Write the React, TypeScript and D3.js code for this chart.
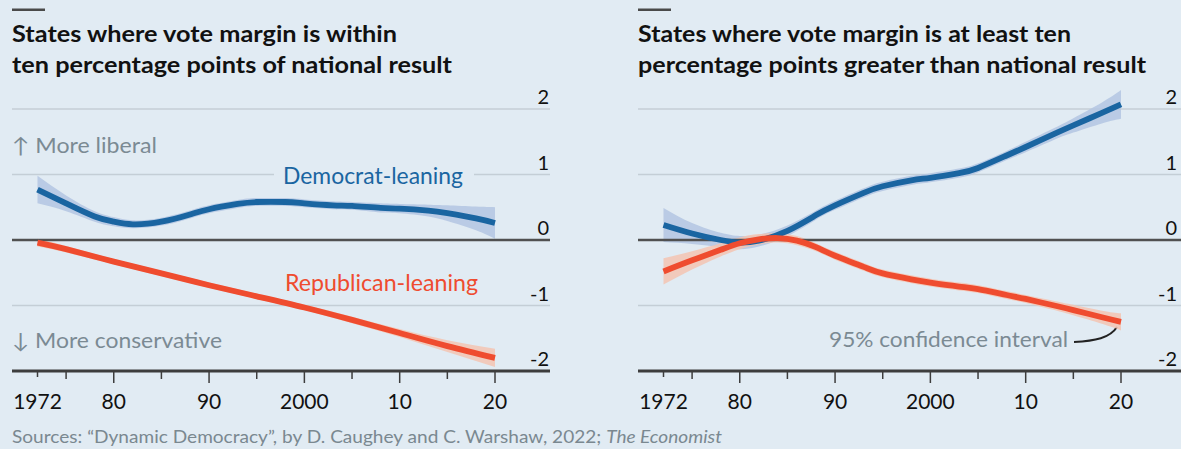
import React from "react";
import * as d3 from "d3";

// ---------- data ----------
const yearsDemL = [1972, 1975, 1978, 1980, 1982, 1985, 1988, 1990, 1993, 1995, 1998, 2000, 2003, 2005, 2008, 2010, 2013, 2015, 2018, 2020];
const demL = [0.77, 0.56, 0.36, 0.28, 0.24, 0.28, 0.39, 0.47, 0.55, 0.58, 0.58, 0.56, 0.53, 0.52, 0.49, 0.48, 0.45, 0.41, 0.33, 0.26];
const demLci = [0.21, 0.12, 0.08, 0.07, 0.06, 0.06, 0.06, 0.06, 0.06, 0.06, 0.06, 0.06, 0.06, 0.06, 0.07, 0.07, 0.09, 0.12, 0.18, 0.24];

const yearsRepL = [1972, 1975, 1980, 1985, 1990, 1995, 2000, 2005, 2010, 2015, 2020];
const repL = [-0.04, -0.14, -0.33, -0.51, -0.69, -0.86, -1.03, -1.22, -1.42, -1.62, -1.8];
const repLci = [0.06, 0.05, 0.04, 0.04, 0.04, 0.04, 0.04, 0.05, 0.06, 0.09, 0.14];

const yearsDemR = [1972, 1975, 1978, 1980, 1982, 1985, 1988, 1990, 1993, 1995, 1998, 2000, 2003, 2005, 2008, 2010, 2013, 2015, 2018, 2020];
const demR = [0.23, 0.1, 0.0, -0.04, -0.01, 0.14, 0.38, 0.53, 0.72, 0.82, 0.91, 0.95, 1.02, 1.1, 1.29, 1.42, 1.62, 1.75, 1.94, 2.07];
const demRci = [0.26, 0.16, 0.11, 0.1, 0.09, 0.08, 0.07, 0.07, 0.07, 0.07, 0.07, 0.07, 0.07, 0.07, 0.07, 0.08, 0.09, 0.11, 0.16, 0.22];

const yearsRepR = [1972, 1975, 1978, 1980, 1982, 1984, 1986, 1988, 1990, 1993, 1995, 1998, 2000, 2003, 2005, 2008, 2010, 2013, 2015, 2018, 2020];
const repR = [-0.48, -0.31, -0.15, -0.05, 0.01, 0.03, -0.01, -0.11, -0.24, -0.41, -0.51, -0.6, -0.65, -0.71, -0.75, -0.84, -0.9, -1.0, -1.07, -1.18, -1.25];
const repRci = [0.2, 0.14, 0.1, 0.09, 0.08, 0.07, 0.07, 0.06, 0.06, 0.06, 0.06, 0.06, 0.06, 0.06, 0.06, 0.06, 0.06, 0.07, 0.08, 0.1, 0.13];

const yTicks = [2, 1, 0, -1, -2];
const xMinorTicks = [1972, 1975, 1985, 1995, 2005, 2015];
const xMajorTicks = [1980, 1990, 2000, 2010, 2020];
const xTickLabels = [
  { year: 1972, label: "1972" },
  { year: 1980, label: "80" },
  { year: 1990, label: "90" },
  { year: 2000, label: "2000" },
  { year: 2010, label: "10" },
  { year: 2020, label: "20" },
];

const titleLeft = ["States where vote margin is within", "ten percentage points of national result"];
const titleRight = ["States where vote margin is at least ten", "percentage points greater than national result"];

// ---------- styles ----------
const BG = "#e1ebf3";
const BLUE = "#1a65a1";
const BLUE_BAND = "#b3c6e2";
const RED = "#ef4c2f";
const RED_BAND = "#f3c4b2";
const GRID = "#c4ced6";
const DARK = "#3d3d3d";
const GREY_TXT = "#7b8a93";
const FONT = "Lato, 'Open Sans', sans-serif";

type Series = { years: number[]; vals: number[]; ci: number[] };

function Panel(props: {
  dx: number;
  gridX0: number;
  gridX1: number;
  labelX: number;
  title: string[];
  titleWidths: number[];
  dem: Series;
  rep: Series;
  children?: React.ReactNode;
}) {
  const { dx } = props;
  const x = d3.scaleLinear().domain([1972, 2020]).range([37.5 + dx, 495 + dx]);
  const y = d3.scaleLinear().domain([-2, 2]).range([371, 109]);
  const curve = d3.curveNatural;

  const mkLine = (s: Series) =>
    d3
      .line<number>()
      .x((_, i) => x(s.years[i]))
      .y((v) => y(v))
      .curve(curve)(s.vals) || "";
  const mkBand = (s: Series) =>
    d3
      .area<number>()
      .x((_, i) => x(s.years[i]))
      .y0((v, i) => y(v - s.ci[i]))
      .y1((v, i) => y(v + s.ci[i]))
      .curve(curve)(s.vals) || "";

  return (
    <g>
      <rect x={props.gridX0} y={8.5} width={33} height={2.5} fill="#4a4a4a" />
      {props.title.map((t, i) => (
        <text
          key={i}
          x={props.gridX0}
          y={42 + i * 31}
          fontFamily={FONT}
          fontWeight={700}
          fontSize={23}
          fill="#111"
          textLength={props.titleWidths[i]}
          lengthAdjust="spacingAndGlyphs"
        >
          {t}
        </text>
      ))}
      {yTicks
        .filter((v) => v !== 0 && v !== -2)
        .map((v) => (
          <line key={v} x1={props.gridX0} x2={props.gridX1} y1={y(v)} y2={y(v)} stroke={GRID} strokeWidth={1.6} />
        ))}
      {props.children}
      <path d={mkBand(props.dem)} fill={BLUE_BAND} opacity={0.85} />
      <path d={mkBand(props.rep)} fill={RED_BAND} opacity={0.85} />
      <line x1={props.gridX0} x2={props.gridX1} y1={y(0)} y2={y(0)} stroke="#505050" strokeWidth={2.4} />
      <path d={mkLine(props.dem)} fill="none" stroke={BLUE} strokeWidth={5.8} strokeLinecap="butt" />
      <path d={mkLine(props.rep)} fill="none" stroke={RED} strokeWidth={5.8} strokeLinecap="butt" />
      <line x1={props.gridX0} x2={props.gridX1} y1={y(-2)} y2={y(-2)} stroke={DARK} strokeWidth={3} />
      {yTicks.map((v) => (
        <text key={v} x={props.labelX} y={y(v) - 5} textAnchor="end" fontFamily={FONT} fontSize={20} fill="#111">
          {v}
        </text>
      ))}
      {xMinorTicks.map((t) => (
        <line key={t} x1={x(t)} x2={x(t)} y1={372} y2={t === 1972 ? 377 : 379} stroke={DARK} strokeWidth={1.5} />
      ))}
      {xMajorTicks.map((t) => (
        <line key={t} x1={x(t)} x2={x(t)} y1={372} y2={383} stroke={DARK} strokeWidth={1.5} />
      ))}
      {xTickLabels.map((t) => (
        <text key={t.year} x={x(t.year)} y={409} textAnchor="middle" fontFamily={FONT} fontSize={21} fill="#111">
          {t.label}
        </text>
      ))}
    </g>
  );
}

export default function App() {
  return (
    <div style={{ position: "absolute", left: 0, top: 0 }}>
      <svg width={1181} height={449} style={{ display: "block" }}>
        <rect x={0} y={0} width={1181} height={449} fill={BG} />
        <Panel
          dx={0}
          gridX0={12}
          gridX1={550}
          labelX={549}
          title={titleLeft}
          titleWidths={[385, 440]}
          dem={{ years: yearsDemL, vals: demL, ci: demLci }}
          rep={{ years: yearsRepL, vals: repL, ci: repLci }}
        >
          <rect x={274} y={160} width={200} height={30} fill={BG} />
          <text x={283} y={184} fontFamily={FONT} fontSize={23} fill={BLUE} textLength={180} lengthAdjust="spacingAndGlyphs">
            Democrat-leaning
          </text>
          <text x={285} y={291} fontFamily={FONT} fontSize={23} fill={RED} textLength={193} lengthAdjust="spacingAndGlyphs">
            Republican-leaning
          </text>
          <text x={12} y={153} fontFamily={FONT} fontSize={21} fill={GREY_TXT} textLength={145} lengthAdjust="spacingAndGlyphs">
            ↑ More liberal
          </text>
          <text x={12} y={348} fontFamily={FONT} fontSize={21} fill={GREY_TXT} textLength={210} lengthAdjust="spacingAndGlyphs">
            ↓ More conservative
          </text>
        </Panel>
        <Panel
          dx={626}
          gridX0={638}
          gridX1={1181}
          labelX={1177}
          title={titleRight}
          titleWidths={[433, 508]}
          dem={{ years: yearsDemR, vals: demR, ci: demRci }}
          rep={{ years: yearsRepR, vals: repR, ci: repRci }}
        >
          <text x={829} y={347} fontFamily={FONT} fontSize={21} fill={GREY_TXT} textLength={239} lengthAdjust="spacingAndGlyphs">
            95% confidence interval
          </text>
          <path d="M1074,342 C1095,341 1110,338 1117,327" fill="none" stroke="#222" strokeWidth={2} />
        </Panel>
        <text x={12} y={443} fontFamily={FONT} fontSize={17} fill="#7a8890" textLength={710} lengthAdjust="spacingAndGlyphs">
          Sources: “Dynamic Democracy”, by D. Caughey and C. Warshaw, 2022; <tspan fontStyle="italic">The Economist</tspan>
        </text>
      </svg>
    </div>
  );
}
